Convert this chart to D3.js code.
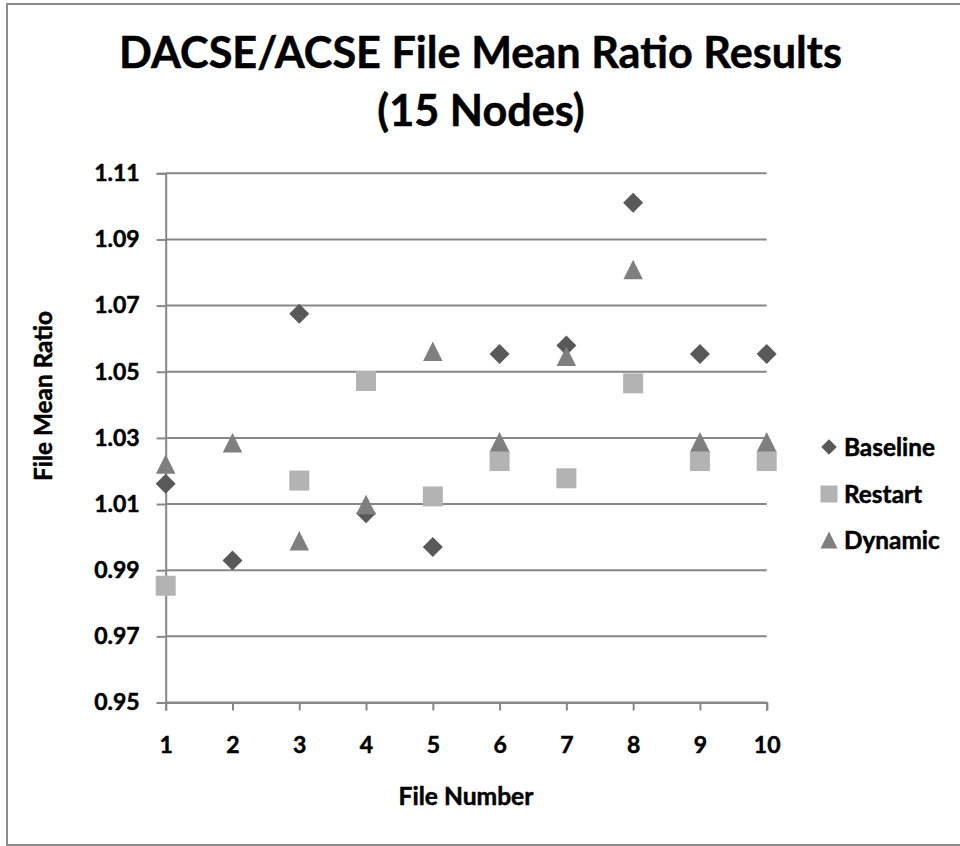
<!DOCTYPE html>
<html>
<head>
<meta charset="utf-8">
<script src="https://cdn.jsdelivr.net/npm/d3@7"></script>
<style>
  html, body { margin: 0; padding: 0; background: #fff; }
  svg { display: block; }
  text { font-family: Lato, "Open Sans", sans-serif; font-weight: bold; fill: #000; stroke: #000; stroke-width: 0.5px; }
</style>
</head>
<body>
<svg id="chart" width="960" height="846"></svg>
<script>
// File numbers on the x axis
const fileNumbers = [1, 2, 3, 4, 5, 6, 7, 8, 9, 10];

// Mean ratio per file for each strategy (null = no result)
const baseline = [1.0161, 0.9929, 1.0675, 1.0072, 0.9970, 1.0554, 1.0579, 1.1011, 1.0554, 1.0554];
const restart  = [0.9853, null,   1.0171, 1.0472, 1.0123, 1.0230, 1.0178, 1.0465, 1.0230, 1.0230];
const dynamic  = [1.0221, 1.0285, 0.9989, 1.0099, 1.0562, 1.0288, 1.0547, 1.0809, 1.0288, 1.0288];

// Axis tick values and labels
const yTicks = [0.95, 0.97, 0.99, 1.01, 1.03, 1.05, 1.07, 1.09, 1.11];
const xTicks = [1, 2, 3, 4, 5, 6, 7, 8, 9, 10];

const titleLines = ["DACSE/ACSE File Mean Ratio Results", "(15 Nodes)"];
const seriesNames = ["Baseline", "Restart", "Dynamic"];

const svg = d3.select("#chart");
const W = 960, H = 846;

// Set a text's font size so that it spans the given width
function fitWidth(sel, width) {
  sel.attr("font-size", 20);
  const w = sel.node().getComputedTextLength();
  sel.attr("font-size", 20 * width / w);
  return 20 * width / w;
}

// Outer chart frame
svg.append("rect")
  .attr("x", 7).attr("y", 4).attr("width", W).attr("height", H - 5)
  .attr("fill", "#fff").attr("stroke", "#8c8c8c").attr("stroke-width", 2);

const x = d3.scaleLinear().domain([1, 10]).range([165.7, 766.7]);
const y = d3.scaleLinear().domain([0.95, 1.11]).range([702.5, 173.3]);

const axisColor = "#878787";

// Horizontal gridlines
svg.append("g")
  .selectAll("line")
  .data(yTicks)
  .join("line")
  .attr("x1", x(1)).attr("x2", x(10))
  .attr("y1", d => y(d)).attr("y2", d => y(d))
  .attr("stroke", axisColor).attr("stroke-width", 2);

// Y axis
const yAxis = svg.append("g")
  .attr("transform", `translate(${x(1)},0)`)
  .call(d3.axisLeft(y).tickValues(yTicks).tickFormat(d3.format(".2f")).tickSize(9).tickPadding(17));
yAxis.select(".domain").attr("stroke", axisColor).attr("stroke-width", 2);
yAxis.selectAll(".tick line").attr("stroke", axisColor).attr("stroke-width", 2);
yAxis.selectAll(".tick text")
  .attr("font-size", 23).attr("font-family", "Lato").attr("font-weight", "bold").attr("fill", "#000");

// X axis
const xAxis = svg.append("g")
  .attr("transform", `translate(0,${y(0.95)})`)
  .call(d3.axisBottom(x).tickValues(xTicks).tickFormat(d3.format("d")).tickSize(8).tickPadding(26));
xAxis.select(".domain").attr("stroke", axisColor).attr("stroke-width", 2);
xAxis.selectAll(".tick line").attr("stroke", axisColor).attr("stroke-width", 2);
xAxis.selectAll(".tick text")
  .attr("font-size", 23).attr("font-family", "Lato").attr("font-weight", "bold").attr("fill", "#000");

// Marker shapes: diamond (rotated square), square, isosceles triangle centred on its box
const triangleBox = {
  draw(ctx, size) {
    const s = Math.sqrt(size);
    ctx.moveTo(0, -s / 2);
    ctx.lineTo(s / 2, s / 2);
    ctx.lineTo(-s / 2, s / 2);
    ctx.closePath();
  }
};

const series = [
  { name: seriesNames[0], values: baseline, type: d3.symbolSquare, size: 200, rotate: 45, color: "#595959", legendSize: 120 },
  { name: seriesNames[1], values: restart,  type: d3.symbolSquare, size: 400, rotate: 0,  color: "#b3b3b3", legendSize: 289 },
  { name: seriesNames[2], values: dynamic,  type: triangleBox,     size: 380, rotate: 0,  color: "#7f7f7f", legendSize: 289 }
];

series.forEach(s => {
  const pts = fileNumbers.map((f, i) => ({ f, v: s.values[i] })).filter(d => d.v != null);
  svg.append("g")
    .selectAll("path")
    .data(pts)
    .join("path")
    .attr("d", d3.symbol().type(s.type).size(s.size))
    .attr("transform", d => `translate(${x(d.f)},${y(d.v)}) rotate(${s.rotate})`)
    .attr("fill", s.color);
});

// Legend
const legendY = [447, 494, 540];
const legend = svg.append("g");
let legendSize = null;
series.forEach((s, i) => {
  legend.append("path")
    .attr("d", d3.symbol().type(s.type).size(s.legendSize))
    .attr("transform", `translate(829,${legendY[i]}) rotate(${s.rotate})`)
    .attr("fill", s.color);
  const t = legend.append("text")
    .attr("x", 844).attr("y", legendY[i])
    .attr("dy", "0.36em")
    .text(s.name);
  if (legendSize === null) legendSize = fitWidth(t, 91);
  else t.attr("font-size", legendSize);
});

// Title, sized to span its width
const title = svg.append("g");
const t1 = title.append("text")
  .attr("x", 480.5).attr("y", 68).attr("text-anchor", "middle")
  .attr("stroke-width", 0.8)
  .text(titleLines[0]);
const fs = fitWidth(t1, 723);
title.append("text")
  .attr("x", 481).attr("y", 126).attr("text-anchor", "middle")
  .attr("stroke-width", 0.8)
  .attr("font-size", fs).text(titleLines[1]);

// Axis titles
const yTitle = svg.append("text")
  .attr("transform", `translate(52,396) rotate(-90)`)
  .attr("text-anchor", "middle")
  .text("File Mean Ratio");
fitWidth(yTitle, 170);

const xTitle = svg.append("text")
  .attr("x", 466).attr("y", 805)
  .attr("text-anchor", "middle")
  .text("File Number");
fitWidth(xTitle, 135);
</script>
</body>
</html>
